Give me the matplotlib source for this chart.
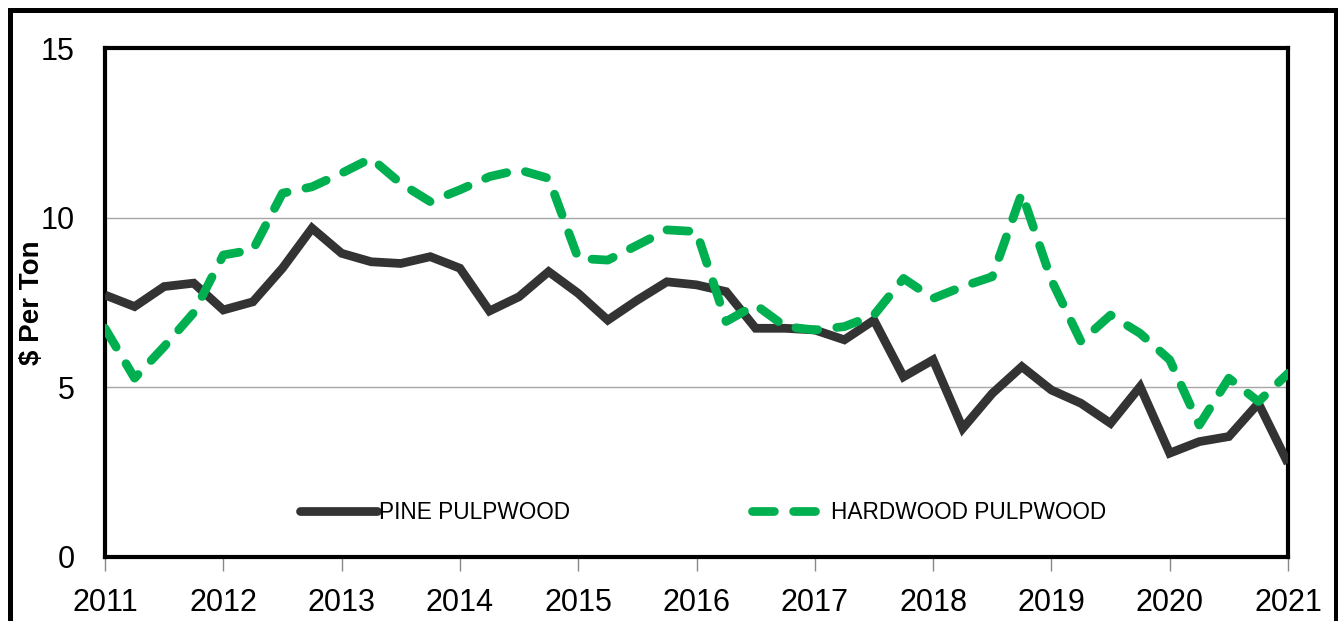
import numpy as np
import matplotlib
matplotlib.use("Agg")
import matplotlib.pyplot as plt
from matplotlib.patches import Rectangle

plt.rcParams['font.family'] = ['Liberation Sans', 'DejaVu Sans']

# quarterly prices, 2011 Q1 .. 2021 Q1
pine = [7.72, 7.38, 7.97, 8.07, 7.28, 7.52, 8.51, 9.69, 8.95, 8.70,
        8.65, 8.85, 8.51, 7.25, 7.67, 8.41, 7.77, 6.98, 7.57, 8.11,
        8.02, 7.82, 6.74, 6.74, 6.69, 6.40, 6.98, 5.31, 5.81, 3.79,
        4.82, 5.61, 4.92, 4.53, 3.94, 5.02, 3.06, 3.40, 3.55, 4.53, 2.76]
hardwood = [6.74, 5.27, 6.20, 7.20, 8.90, 9.05, 10.72, 10.91, 11.31, 11.75,
            11.01, 10.47, 10.82, 11.21, 11.41, 11.16, 8.80, 8.75, 9.19, 9.64,
            9.59, 6.94, 7.43, 6.79, 6.69, 6.79, 7.13, 8.21, 7.62, 7.97,
            8.26, 10.72, 8.16, 6.35, 7.13, 6.59, 5.81, 3.89, 5.27, 4.58, 5.41]
years = list(range(2011, 2022))
x = 2011 + np.arange(len(pine)) / 4

W, H = 1338, 621
fig = plt.figure(figsize=(W / 100, H / 100), dpi=100)
ax = fig.add_axes([105 / W, (H - 557) / H, 1183 / W, 509 / H])

ax.plot(x, pine, color='#333333', lw=6.3, solid_joinstyle='miter',
        solid_capstyle='butt', label='PINE PULPWOOD', zorder=3)
ax.plot(x, hardwood, color='#00B050', lw=6.3, linestyle=(0, (2.5, 2.2)),
        dash_capstyle='round', dash_joinstyle='round',
        label='HARDWOOD PULPWOOD', zorder=4)

ax.set_xlim(2011, 2021)
ax.set_ylim(0, 15)
ax.set_xticks(years)
ax.set_yticks([0, 5, 10, 15])
ax.tick_params(axis='x', direction='out', length=10, width=1, color='#888888',
               labelsize=22, pad=12)
ax.tick_params(axis='y', length=0, labelsize=22, pad=22)
for v in (5, 10):
    ax.axhline(v, color='#A6A6A6', lw=1, zorder=1)
for s in ax.spines.values():
    s.set_linewidth(3)
    s.set_color('black')

leg = ax.legend(loc='center left', bbox_to_anchor=(0.165, 0.087), ncol=2,
                frameon=False, fontsize=16.3, handlelength=3.4, handletextpad=0.1,
                columnspacing=8.0, borderaxespad=0, borderpad=0)
for h in leg.get_lines():
    h.set_solid_capstyle('round')

fig.text(32 / W, 1 - 303 / H, '$ Per Ton', rotation=90, ha='center', va='center',
         fontsize=20, fontweight='bold')

# outer frame (bottom edge runs off the image)
fig.patches.append(Rectangle((9.5 / W, -0.05), 1326 / W, 1.05 - 9.5 / H,
                             transform=fig.transFigure, fill=False,
                             edgecolor='black', lw=3.6))

fig.savefig('out.png', dpi=100)
